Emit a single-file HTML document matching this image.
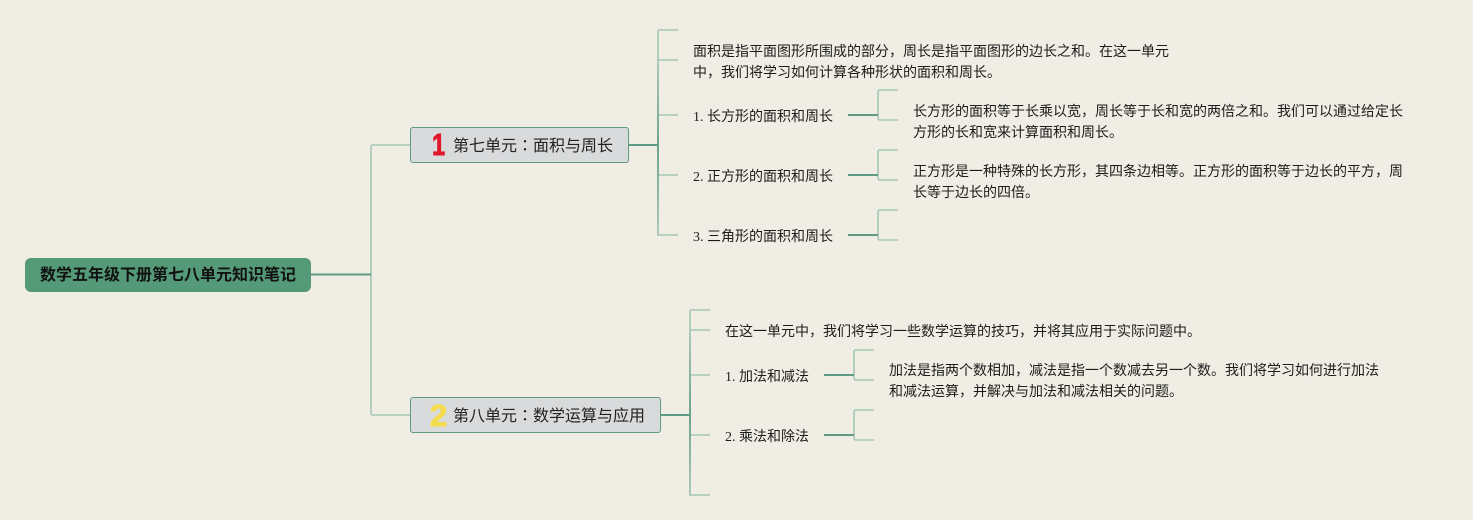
<!DOCTYPE html>
<html lang="zh">
<head>
<meta charset="utf-8">
<style>
html,body{margin:0;padding:0}
body{width:1473px;height:520px;overflow:hidden;background:#f0eee4;position:relative;font-family:"Liberation Serif","Noto Sans CJK SC",serif;color:#1c1c1c}
svg{position:absolute;left:0;top:0}
.t{position:absolute;font-size:14px;line-height:21px;white-space:nowrap}
.n{position:absolute;box-sizing:border-box;background:#d9dadb;border:1px solid #5f9a84;border-radius:3px}
.b{position:absolute;font-size:16px;line-height:22px;white-space:nowrap;font-family:"Liberation Sans","Noto Sans CJK SC",sans-serif;color:#222}
.b span{font-family:"Noto Sans CJK TC",sans-serif;line-height:0}
.num{position:absolute;font:bold 31px/36px "Liberation Sans","Noto Sans CJK SC",sans-serif;-webkit-text-stroke:1px currentColor}
</style>
</head>
<body>
<svg width="1473" height="520" viewBox="0 0 1473 520" fill="none">
<defs>
<linearGradient id="g1" gradientUnits="userSpaceOnUse" x1="0" y1="145" x2="0" y2="60"><stop offset="0" stop-color="#5f9a84"/><stop offset="1" stop-color="#a5c6b2"/></linearGradient>
<linearGradient id="g2" gradientUnits="userSpaceOnUse" x1="0" y1="145" x2="0" y2="235"><stop offset="0" stop-color="#5f9a84"/><stop offset="1" stop-color="#a5c6b2"/></linearGradient>
<linearGradient id="g3" gradientUnits="userSpaceOnUse" x1="0" y1="415" x2="0" y2="330"><stop offset="0" stop-color="#5f9a84"/><stop offset="1" stop-color="#a5c6b2"/></linearGradient>
<linearGradient id="g4" gradientUnits="userSpaceOnUse" x1="0" y1="415" x2="0" y2="495"><stop offset="0" stop-color="#5f9a84"/><stop offset="1" stop-color="#a5c6b2"/></linearGradient>
</defs>
<g stroke="#a5c6b2" stroke-width="1.6">
<path d="M410 145H373Q371 145 371 147V413Q371 415 373 415H410"/>
<path d="M678 30H660Q658 30 658 32V60"/>
<path d="M658 60H678M658 115H678M658 175H678M658 235H678"/>
<path d="M898 90H880Q878 90 878 92V118Q878 120 880 120H898"/>
<path d="M898 150H880Q878 150 878 152V178Q878 180 880 180H898"/>
<path d="M898 210H880Q878 210 878 212V238Q878 240 880 240H898"/>
<path d="M710 310H692Q690 310 690 312V330"/>
<path d="M690 330H710M690 375H710M690 435H710M690 495H710"/>
<path d="M874 350H856Q854 350 854 352V378Q854 380 856 380H874"/>
<path d="M874 410H856Q854 410 854 412V438Q854 440 856 440H874"/>
</g>
<g stroke-width="1.8" fill="none">
<path d="M658 145V60" stroke="url(#g1)"/>
<path d="M658 145V235.800" stroke="url(#g2)"/>
<path d="M690 415V330" stroke="url(#g3)"/>
<path d="M690 415V495.800" stroke="url(#g4)"/>
</g>
<g stroke="#5f9a84" stroke-width="2">
<path d="M311 274.500H371"/>
<path d="M628 145H658"/>
<path d="M660 415H690"/>
<path d="M848 115H878M848 175H878M848 235H878"/>
<path d="M824 375H854M824 435H854"/>
</g>
</svg>

<div style="position:absolute;left:25px;top:258px;width:286px;height:34px;background:#559a78;border-radius:6px"></div>
<div class="b" style="left:40px;top:265px;font-weight:bold;color:#111">数学五年级下册第七八单元知识笔记</div>

<div class="n" style="left:410px;top:127px;width:219px;height:36px"></div>
<div class="num" style="left:430px;top:127px;color:#e0162b;transform:scaleX(.75)">1</div>
<div class="b" style="left:453px;top:136px">第七单元<span lang="zh-Hant">：</span>面积与周长</div>

<div class="n" style="left:410px;top:397px;width:251px;height:36px"></div>
<div class="num" style="left:430px;top:398px;color:#f5dc4d">2</div>
<div class="b" style="left:453px;top:406px">第八单元<span lang="zh-Hant">：</span>数学运算与应用</div>

<div class="t" style="left:693px;top:42px">面积是指平面图形所围成的部分，周长是指平面图形的边长之和。在这一单元<br>中，我们将学习如何计算各种形状的面积和周长。</div>
<div class="t" style="left:693px;top:107px">1. 长方形的面积和周长</div>
<div class="t" style="left:913px;top:102px">长方形的面积等于长乘以宽，周长等于长和宽的两倍之和。我们可以通过给定长<br>方形的长和宽来计算面积和周长。</div>
<div class="t" style="left:693px;top:167px">2. 正方形的面积和周长</div>
<div class="t" style="left:913px;top:162px">正方形是一种特殊的长方形，其四条边相等。正方形的面积等于边长的平方，周<br>长等于边长的四倍。</div>
<div class="t" style="left:693px;top:227px">3. 三角形的面积和周长</div>

<div class="t" style="left:725px;top:322px">在这一单元中，我们将学习一些数学运算的技巧，并将其应用于实际问题中。</div>
<div class="t" style="left:725px;top:367px">1. 加法和减法</div>
<div class="t" style="left:889px;top:361px">加法是指两个数相加，减法是指一个数减去另一个数。我们将学习如何进行加法<br>和减法运算，并解决与加法和减法相关的问题。</div>
<div class="t" style="left:725px;top:427px">2. 乘法和除法</div>
</body>
</html>
